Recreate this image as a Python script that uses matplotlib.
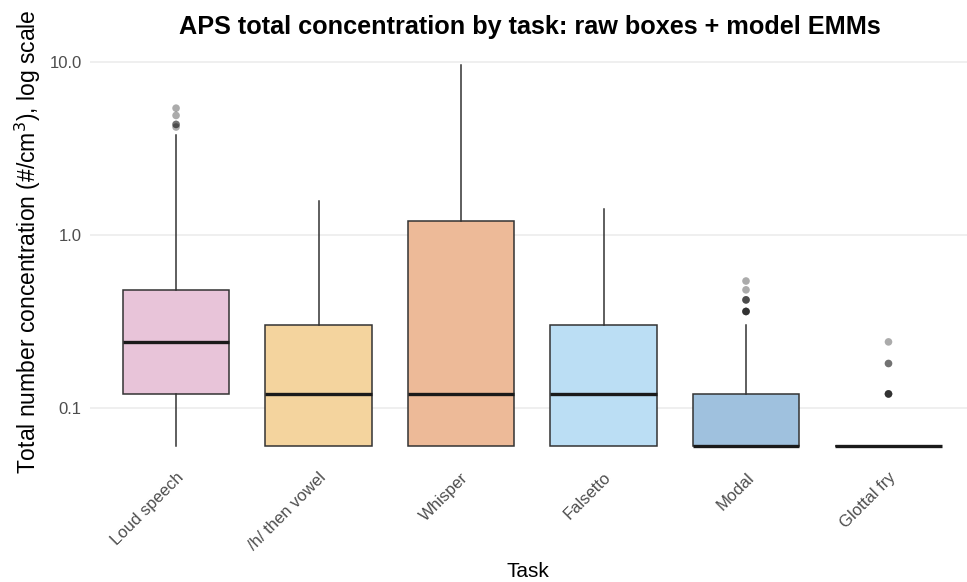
import numpy as np
import matplotlib.pyplot as plt

plt.rcParams['font.family'] = ['Liberation Sans', 'DejaVu Sans']

# per-task box summaries (#/cm3)
tasks = ['Loud speech', '/h/ then vowel', 'Whisper', 'Falsetto', 'Modal', 'Glottal fry']
whislo = [0.06, 0.06, 0.06, 0.06, 0.06, 0.06]
q1 = [0.12, 0.06, 0.06, 0.06, 0.06, 0.06]
med = [0.24, 0.12, 0.12, 0.12, 0.06, 0.06]
q3 = [0.48, 0.30, 1.20, 0.30, 0.12, 0.06]
whishi = [3.8, 1.57, 9.6, 1.40, 0.30, 0.06]
outliers = [
    [5.4, 4.9, 4.35, 4.35, 4.2],
    [],
    [],
    [],
    [0.54, 0.48, 0.42, 0.42, 0.42, 0.36, 0.36, 0.36, 0.36],
    [0.24, 0.18, 0.18, 0.12, 0.12, 0.12, 0.12],
]
fills = ['#E8C4D9', '#F4D49E', '#EDBA98', '#BBDEF4', '#9FC1DE', '#9FC1DE']

fig = plt.figure(figsize=(9.67, 5.82), dpi=100)
ax = fig.add_axes([90 / 967, 117 / 582, 877 / 967, 419 / 582])

stats = []
for i, t in enumerate(tasks):
    stats.append(dict(label=t, whislo=whislo[i], q1=q1[i], med=med[i],
                      q3=q3[i], whishi=whishi[i], fliers=[]))

bp = ax.bxp(stats, positions=np.arange(len(tasks)), widths=0.75,
            patch_artist=True, showcaps=False, showfliers=False,
            boxprops=dict(edgecolor='#333333', linewidth=1.1),
            whiskerprops=dict(color='#333333', linewidth=1.1),
            medianprops=dict(color='#1a1a1a', linewidth=2.4),
            zorder=3)
for patch, c in zip(bp['boxes'], fills):
    patch.set_facecolor(c)

for i, vals in enumerate(outliers):
    if vals:
        ax.scatter([i] * len(vals), vals, s=30, color='black', alpha=0.33,
                   edgecolors='none', zorder=4)

ax.set_yscale('log')
ax.set_ylim(10 ** -1.332, 10 ** 1.092)
ax.set_xlim(-0.604, 5.551)
ax.set_yticks([0.1, 1.0, 10.0])
ax.set_yticklabels(['0.1', '1.0', '10.0'])
ax.minorticks_off()
ax.yaxis.grid(True, color='#EBEBEB', linewidth=1.1, zorder=0)
ax.set_axisbelow(True)
for s in ax.spines.values():
    s.set_visible(False)
ax.tick_params(axis='both', length=0, colors='#4D4D4D', labelsize=12)
ax.tick_params(axis='y', pad=6)
ax.set_xticks(np.arange(len(tasks)))
ax.set_xticklabels(tasks, rotation=45, ha='right', rotation_mode='anchor',
                   fontsize=12)

ax.set_ylabel('Total number concentration (#/cm$^3$), log scale', fontsize=16.5,
              va='center')
ax.yaxis.set_label_coords(-0.071, 0.532)
ax.set_xlabel('Task', fontsize=15, va='center')
ax.xaxis.set_label_coords(0.4994, -0.255)
fig.text(0.548, 0.953, 'APS total concentration by task: raw boxes + model EMMs',
         ha='center', va='center', fontsize=18.2, fontweight='bold')

fig.savefig('out.png', dpi=100)
